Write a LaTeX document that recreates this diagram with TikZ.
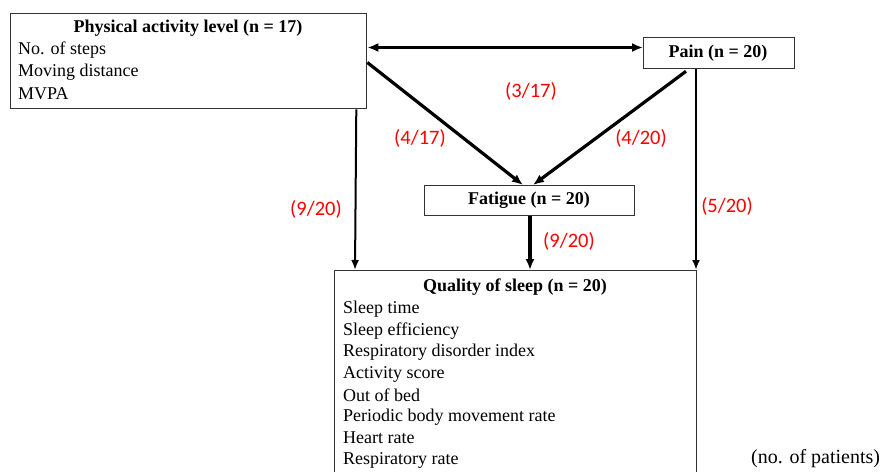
\documentclass[tikz,border=0pt]{standalone}
\usepackage{fontspec}
\setmainfont{Liberation Serif}
\newfontfamily\labfont{Carlito}
\usetikzlibrary{arrows.meta,calc}
\begin{document}
\begin{tikzpicture}[x=1pt,y=-1pt,
  box/.style={draw=black!80,line width=1.3pt,inner sep=0pt},
  txt/.style={inner sep=0pt,font=\fontsize{18}{18}\selectfont,anchor=west},
  ttl/.style={inner sep=0pt,font=\fontsize{18}{18}\selectfont\bfseries},
  lab/.style={inner sep=0pt,text=red,font=\labfont\fontsize{20.5}{20.5}\selectfont},
  thk/.style={line width=3.2pt,-{Latex[length=11pt,width=9pt]}},
  thn/.style={line width=2pt,-{Latex[length=10pt,width=8pt]}}]
\clip (0,0) rectangle (882,471);
\fill[white] (0,0) rectangle (882,471);
% boxes
\node[box,minimum width=356pt,minimum height=95pt,anchor=north west] (pa) at (10,13) {};
\node[box,minimum width=151pt,minimum height=31pt,anchor=north west] (pain) at (643,37) {};
\node[box,minimum width=210pt,minimum height=30pt,anchor=north west] (fat) at (424,185) {};
\node[box,minimum width=362pt,minimum height=220pt,anchor=north west] (qs) at (334,270) {};
% texts
\node[ttl] (pat) at (188,28) {Physical activity level (n = 17)};
\node[txt] (pa1) at (18,50) {No. of steps};
\node[txt] (pa2) at (18,72) {Moving distance};
\node[txt] (pa3) at (18,94) {MVPA};
\node[ttl] (paint) at (718,53) {Pain (n = 20)};
\node[ttl] (fatt) at (529,200) {Fatigue (n = 20)};
\node[ttl] (qst) at (515,287) {Quality of sleep (n = 20)};
\node[txt] (q1) at (343,309) {Sleep time};
\node[txt] (q2) at (343,331) {Sleep efficiency};
\node[txt] (q3) at (343,352) {Respiratory disorder index};
\node[txt] (q4) at (343,374) {Activity score};
\node[txt] (q5) at (343,395) {Out of bed};
\node[txt] (q6) at (343,417) {Periodic body movement rate};
\node[txt] (q7) at (343,438) {Heart rate};
\node[txt] (q8) at (343,460) {Respiratory rate};
\node[txt,font=\fontsize{20}{20}\selectfont] (np) at (751,459) {(no. of patients)};
% connectors
\draw[line width=3.2pt,{Latex[length=11pt,width=9pt]}-{Latex[length=11pt,width=9pt]}]
  ([yshift=-34.5pt]pa.north east) -- ([yshift=-10.5pt]pain.north west);
\draw[thk] ([yshift=-49.5pt]pa.north east) -- ([xshift=99pt]fat.north west);
\draw[thk] ([xshift=43pt,yshift=-2pt]pain.south west) -- ([xshift=109pt]fat.north west);
\draw[thn] ([xshift=-11pt]pa.south east) -- ([xshift=21pt]qs.north west);
\draw[thk] ([xshift=106pt]fat.south west) -- ([xshift=196pt]qs.north west);
\draw[thn] ([xshift=53pt]pain.south west) -- ([xshift=362pt]qs.north west);
% labels
\node[lab] (l1) at (531,91) {(3/17)};
\node[lab] (l2) at (420,138) {(4/17)};
\node[lab] (l3) at (641,138) {(4/20)};
\node[lab] (l4) at (316,209) {(9/20)};
\node[lab] (l5) at (727,206) {(5/20)};
\node[lab] (l6) at (569,241) {(9/20)};
\end{tikzpicture}
\end{document}
